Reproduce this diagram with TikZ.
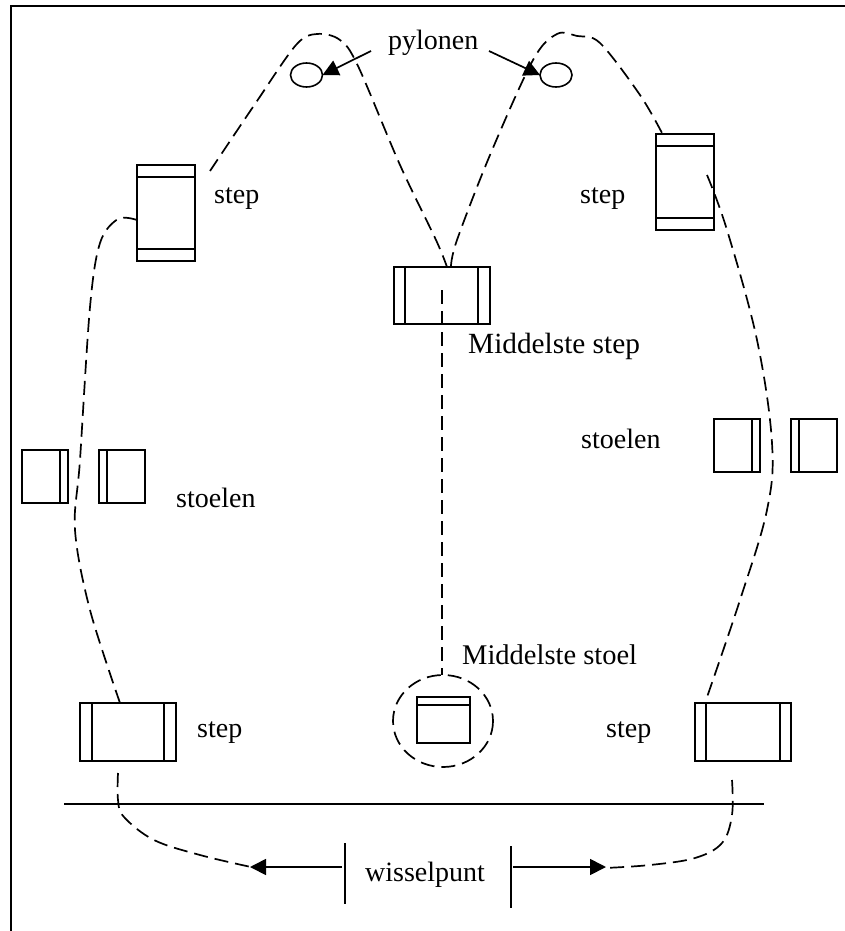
\documentclass[tikz,border=0pt]{standalone}
\usepackage{fontspec}
\setmainfont{Liberation Serif}
\usetikzlibrary{arrows.meta,calc,shapes.geometric}
\tikzset{
  box/.style={draw,line width=1.6pt,rectangle,inner sep=0pt,outer sep=0pt,minimum width=#1},
  oval/.style={draw,line width=1.6pt,ellipse,inner sep=0pt,outer sep=0pt,minimum width=32pt,minimum height=24pt},
  dashline/.style={line width=1.7pt,dash pattern=on 14pt off 7pt},
  thin line/.style={line width=1.6pt},
  tip/.style={line width=1.7pt,-{Triangle[length=16pt,width=16pt]}},
  lbl/.style={anchor=base west,inner sep=0pt,font=\fontsize{28}{32}\selectfont},
  lblwide/.style={lbl,font=\fontsize{#1}{32}\selectfont},
}
\newcommand{\boxat}[5]{\node[box=#4pt,minimum height=#5pt,anchor=north west] (#1) at (#2,#3) {};}
\begin{document}
\begin{tikzpicture}[x=1pt,y=-1pt]
\useasboundingbox (0,0) rectangle (845,931);
\fill[white] (0,0) rectangle (845,931);
% frame
\coordinate (fbl) at (11,931);
\coordinate (ftl) at (11,6);
\coordinate (ftr) at (845,6);
\draw[line width=1.7pt] (fbl) -- (ftl) -- (ftr);
% steps
\boxat{stepTL}{137}{165}{58}{96}
\boxat{stepTR}{656}{134}{58}{96}
\boxat{stepM}{394}{267}{96}{57}
\boxat{stepBL}{80}{703}{96}{58}
\boxat{stepBR}{695}{703}{96}{58}
\draw[thin line] ([yshift=-12pt]stepTL.north west) -- ([yshift=-12pt]stepTL.north east);
\draw[thin line] ([yshift=12pt]stepTL.south west) -- ([yshift=12pt]stepTL.south east);
\draw[thin line] ([yshift=-12pt]stepTR.north west) -- ([yshift=-12pt]stepTR.north east);
\draw[thin line] ([yshift=12pt]stepTR.south west) -- ([yshift=12pt]stepTR.south east);
\draw[thin line] ([xshift=11pt]stepM.north west) -- ([xshift=11pt]stepM.south west);
\draw[thin line] ([xshift=-12pt]stepM.north east) -- ([xshift=-12pt]stepM.south east);
\draw[thin line] ([xshift=12pt]stepBL.north west) -- ([xshift=12pt]stepBL.south west);
\draw[thin line] ([xshift=-12pt]stepBL.north east) -- ([xshift=-12pt]stepBL.south east);
\draw[thin line] ([xshift=11pt]stepBR.north west) -- ([xshift=11pt]stepBR.south west);
\draw[thin line] ([xshift=-11pt]stepBR.north east) -- ([xshift=-11pt]stepBR.south east);
% chairs
\boxat{chairL1}{22}{450}{46}{53}
\boxat{chairL2}{99}{450}{46}{53}
\boxat{chairR1}{714}{419}{46}{53}
\boxat{chairR2}{791}{419}{46}{53}
\boxat{chairM}{417}{697}{53}{46}
\draw[thin line] ([xshift=-8pt]chairL1.north east) -- ([xshift=-8pt]chairL1.south east);
\draw[thin line] ([xshift=8pt]chairL2.north west) -- ([xshift=8pt]chairL2.south west);
\draw[thin line] ([xshift=-8pt]chairR1.north east) -- ([xshift=-8pt]chairR1.south east);
\draw[thin line] ([xshift=8pt]chairR2.north west) -- ([xshift=8pt]chairR2.south west);
\draw[thin line] ([yshift=-8pt]chairM.north west) -- ([yshift=-8pt]chairM.north east);
% pylons
\node[oval] (pylL) at (306.5,75) {};
\node[oval] (pylR) at (556,75) {};
% labels
\node[lbl] (lPyl) at (388,50) {pylonen};
\node[lbl] (lStepTL) at (214,203) {step};
\node[lbl] (lStepTR) at (580,203) {step};
\node[lblwide=29.3] (lMidStep) at (468,353) {Middelste step};
\node[lbl] (lStoelR) at (581,448) {stoelen};
\node[lbl] (lStoelL) at (176,507) {stoelen};
\node[lblwide=28.5] (lMidStoel) at (462,664) {Middelste stoel};
\node[lbl] (lStepBL) at (197,737) {step};
\node[lbl] (lStepBR) at (606,737) {step};
\node[lbl] (lWissel) at (365,881) {wisselpunt};
% pylon arrows
\coordinate (pa) at (371,51);
\coordinate (pb) at (489,51);
\draw[tip] (pa) -- (pylL.east);
\draw[tip] (pb) -- (pylR.west);
% dashed circle and axis
\coordinate (cc) at (443,721);
\draw[dashline] (cc) ellipse [x radius=50,y radius=46];
\coordinate (mTop) at (442,290);
\coordinate (mBot) at (442,675);
\draw[dashline] (mTop) -- (mBot);
% curves
\coordinate (c1a) at (210,171);
\coordinate (c1b) at (447,267);
\draw[dashline] plot[smooth,tension=0.55] coordinates {(c1a) (255,104) (296,45) (317,34) (340,40) (358,66) (400,165) (436,240) (c1b)};
\coordinate (c2a) at (451,266);
\coordinate (c2b) at (662,133);
\draw[dashline] plot[smooth,tension=0.55] coordinates {(c2a) (457,240) (490,155) (533,60) (557,34) (577,36) (600,43) (640,95) (c2b)};
\coordinate (c3a) at (707,175);
\coordinate (c3b) at (706,700);
\draw[dashline] plot[smooth,tension=0.6] coordinates {(c3a) (727,230) (757,340) (772,443) (767,510) (740,600) (c3b)};
\coordinate (c4a) at (137,220);
\coordinate (c4b) at (120,703);
\draw[dashline] plot[smooth,tension=0.55] coordinates {(c4a) (118,219) (100,243) (90,307) (80,460) (75,530) (90,610) (c4b)};
\coordinate (c5a) at (118,773);
\coordinate (c5b) at (251,867);
\draw[dashline] plot[smooth,tension=0.6] coordinates {(c5a) (118,800) (124,817) (154,840) (200,855) (c5b)};
\coordinate (c6a) at (732,780);
\coordinate (c6b) at (605,868);
\draw[dashline] plot[smooth,tension=0.6] coordinates {(c6a) (732,815) (722,843) (695,858) (650,865) (c6b)};
% rail
\coordinate (railL) at (64,804);
\coordinate (railR) at (764,804);
\draw[line width=1.7pt] (railL) -- (railR);
% wissel
\coordinate (w1a) at (345,843);
\coordinate (w1b) at (345,904);
\coordinate (w2a) at (511,846);
\coordinate (w2b) at (511,908);
\draw[thin line] (w1a) -- (w1b);
\draw[thin line] (w2a) -- (w2b);
\coordinate (a1s) at (342,867);
\coordinate (a2s) at (513,867);
\coordinate (a1e) at (250,867);
\coordinate (a2e) at (606,867);
\draw[tip] (a1s) -- (a1e);
\draw[tip] (a2s) -- (a2e);
\end{tikzpicture}
\end{document}
